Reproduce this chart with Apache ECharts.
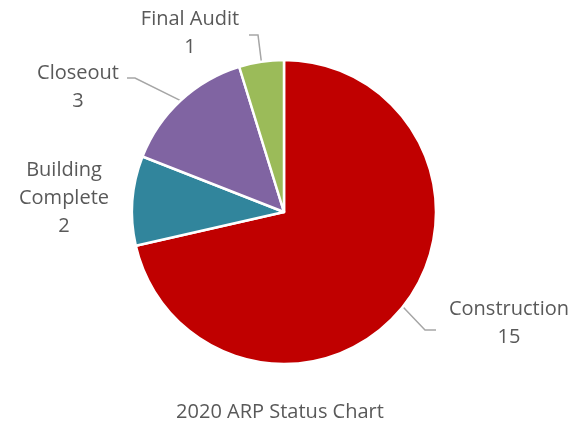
<!DOCTYPE html>
<html>
<head>
<meta charset="utf-8">
<script src="https://cdn.jsdelivr.net/npm/echarts@6/dist/echarts.min.js"></script>
<style>
  html, body { margin: 0; padding: 0; background: #fff; }
  #chart { width: 587px; height: 424px; }
</style>
</head>
<body>
<div id="chart"></div>
<script>
// Status categories and project counts
const categories = ['Construction', 'Building Complete', 'Closeout', 'Final Audit']
const counts = [15, 2, 3, 1]
const colors = ['#C00000', '#31859C', '#8064A2', '#9BBB59']

// Label placement (centre of each text block) and guide line elbows
const labelCenters = [[509, 323], [64, 198], [78, 87], [190, 33]]
const guideBends = [[[425, 330], [436, 330]], null, [[135, 78], [127, 78]], [[258, 35], [249, 35]]]

const chart = echarts.init(document.getElementById('chart'))

const option = {
  animation: false,
  title: {
    text: '2020 ARP Status Chart',
    left: 275,
    top: 397,
    textAlign: 'center',
    textStyle: {
      fontFamily: 'Open Sans',
      fontSize: 20,
      fontWeight: 'normal',
      color: '#595959'
    }
  },
  series: [
    {
      type: 'pie',
      center: [284, 212],
      radius: 152,
      startAngle: 90,
      clockwise: true,
      data: categories.map((name, i) => ({
        name,
        value: counts[i],
        itemStyle: { color: colors[i] },
        labelLine: { show: guideBends[i] !== null }
      })),
      itemStyle: {
        borderColor: '#fff',
        borderWidth: 2.5
      },
      label: {
        position: 'outside',
        formatter: (p) => p.name.replace('Building ', 'Building\n') + '\n' + p.value,
        fontFamily: 'Open Sans',
        fontSize: 20,
        lineHeight: 28,
        color: '#595959',
        align: 'center',
        overflow: 'none'
      },
      labelLine: {
        show: true,
        lineStyle: { color: '#A6A6A6', width: 1.5 }
      },
      labelLayout: (params) => {
        const i = params.dataIndex
        const c = labelCenters[i]
        const res = {
          x: c[0],
          y: c[1],
          align: 'center',
          verticalAlign: 'middle'
        }
        if (guideBends[i] && params.labelLinePoints) {
          res.labelLinePoints = [params.labelLinePoints[0], guideBends[i][0], guideBends[i][1]]
        }
        return res
      }
    }
  ]
}

chart.setOption(option)
</script>
</body>
</html>
